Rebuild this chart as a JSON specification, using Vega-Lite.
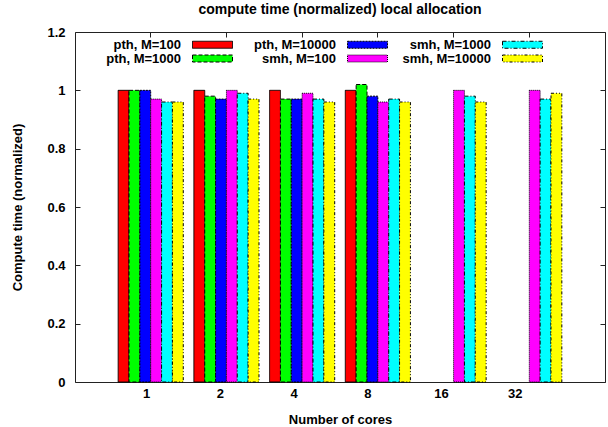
{
  "$schema": "https://vega.github.io/schema/vega-lite/v6.json",
  "width": 530,
  "height": 350,
  "autosize": {"type": "none"},
  "padding": {"left": 75, "top": 32, "right": 3, "bottom": 45},
  "title": {"text": "compute time (normalized) local allocation", "font": "Liberation Sans", "fontSize": 14, "fontWeight": "bold", "anchor": "middle", "frame": "group", "baseline": "bottom", "offset": -5, "color": "black"},
  "config": {
    "view": {"stroke": "#222", "strokeWidth": 1},
    "axis": {"labelFont": "Liberation Sans", "labelFontWeight": "bold", "labelFontSize": 13, "labelColor": "black", "titleFont": "Liberation Sans", "titleFontWeight": "bold", "titleFontSize": 13, "titleColor": "black", "grid": false, "domain": false, "tickColor": "#222"}
  },
  "data": {"values": [
    {"cores": "1", "series": "pth, M=100", "value": 1.0},
    {"cores": "1", "series": "pth, M=1000", "value": 1.0},
    {"cores": "1", "series": "pth, M=10000", "value": 1.0},
    {"cores": "1", "series": "smh, M=100", "value": 0.97},
    {"cores": "1", "series": "smh, M=1000", "value": 0.96},
    {"cores": "1", "series": "smh, M=10000", "value": 0.96},
    {"cores": "2", "series": "pth, M=100", "value": 1.0},
    {"cores": "2", "series": "pth, M=1000", "value": 0.98},
    {"cores": "2", "series": "pth, M=10000", "value": 0.97},
    {"cores": "2", "series": "smh, M=100", "value": 1.0},
    {"cores": "2", "series": "smh, M=1000", "value": 0.99},
    {"cores": "2", "series": "smh, M=10000", "value": 0.97},
    {"cores": "4", "series": "pth, M=100", "value": 1.0},
    {"cores": "4", "series": "pth, M=1000", "value": 0.97},
    {"cores": "4", "series": "pth, M=10000", "value": 0.97},
    {"cores": "4", "series": "smh, M=100", "value": 0.99},
    {"cores": "4", "series": "smh, M=1000", "value": 0.97},
    {"cores": "4", "series": "smh, M=10000", "value": 0.96},
    {"cores": "8", "series": "pth, M=100", "value": 1.0},
    {"cores": "8", "series": "pth, M=1000", "value": 1.02},
    {"cores": "8", "series": "pth, M=10000", "value": 0.98},
    {"cores": "8", "series": "smh, M=100", "value": 0.96},
    {"cores": "8", "series": "smh, M=1000", "value": 0.97},
    {"cores": "8", "series": "smh, M=10000", "value": 0.96},
    {"cores": "16", "series": "smh, M=100", "value": 1.0},
    {"cores": "16", "series": "smh, M=1000", "value": 0.98},
    {"cores": "16", "series": "smh, M=10000", "value": 0.96},
    {"cores": "32", "series": "smh, M=100", "value": 1.0},
    {"cores": "32", "series": "smh, M=1000", "value": 0.97},
    {"cores": "32", "series": "smh, M=10000", "value": 0.99}
  ]},
  "resolve": {"axis": {"x": "independent", "y": "independent"}},
  "layer": [
    {
      "mark": {"type": "bar", "stroke": "black", "strokeWidth": 1},
      "encoding": {
        "x": {"field": "cores", "type": "ordinal", "sort": ["1", "2", "4", "8", "16", "32"],
              "scale": {"paddingInner": 0.14, "paddingOuter": 0.57},
              "axis": {"orient": "bottom", "title": "Number of cores", "labelAngle": 0, "ticks": false, "labelPadding": 5, "titlePadding": 13, "labelOffset": {"expr": "-4 - 10 * datum.index"}}},
        "xOffset": {"field": "series", "type": "nominal",
              "sort": ["pth, M=100", "pth, M=1000", "pth, M=10000", "smh, M=100", "smh, M=1000", "smh, M=10000"],
              "scale": {"paddingInner": 0, "paddingOuter": 0}},
        "y": {"field": "value", "type": "quantitative",
              "scale": {"domain": [0, 1.2], "nice": false},
              "axis": {"orient": "left", "title": "Compute time (normalized)", "values": [0, 0.2, 0.4, 0.6, 0.8, 1, 1.2], "labelExpr": "'' + datum.value", "tickSize": -5, "labelPadding": 15, "titlePadding": 22}},
        "color": {"field": "series", "type": "nominal",
              "scale": {"domain": ["pth, M=100", "pth, M=1000", "pth, M=10000", "smh, M=100", "smh, M=1000", "smh, M=10000"],
                        "range": ["#ff0000", "#00ff00", "#0000ff", "#ff00ff", "#00ffff", "#ffff00"]},
              "legend": {"title": null, "orient": "none", "legendX": 131, "legendY": 6, "columns": 3, "padding": 0, "gridAlign": "all",
                         "symbolType": "M-4,-0.7H4V0.7H-4Z", "symbolSize": 100, "symbolStrokeColor": "black", "symbolStrokeWidth": 1, "symbolOpacity": 1,
                         "labelAlign": "right", "labelOffset": -38, "columnPadding": 12, "rowPadding": -1,
                         "labelFont": "Liberation Sans", "labelFontWeight": "bold", "labelFontSize": 13, "labelColor": "black", "labelLimit": 200}},
        "strokeDash": {"field": "series", "type": "nominal",
              "scale": {"domain": ["pth, M=100", "pth, M=1000", "pth, M=10000", "smh, M=100", "smh, M=1000", "smh, M=10000"],
                        "range": [[1, 0], [4, 2], [2, 1], [1, 1], [4, 2, 1, 2], [3, 2, 1, 2, 1, 2]]}}
      }
    },
    {
      "mark": {"type": "point", "opacity": 0},
      "encoding": {
        "x": {"field": "cores", "type": "ordinal", "sort": ["1", "2", "4", "8", "16", "32"],
              "axis": {"orient": "top", "title": null, "labels": false, "tickSize": -5}},
        "y": {"field": "value", "type": "quantitative",
              "axis": {"orient": "right", "title": null, "labels": false, "values": [0, 0.2, 0.4, 0.6, 0.8, 1, 1.2], "tickSize": -5}}
      }
    }
  ]
}
